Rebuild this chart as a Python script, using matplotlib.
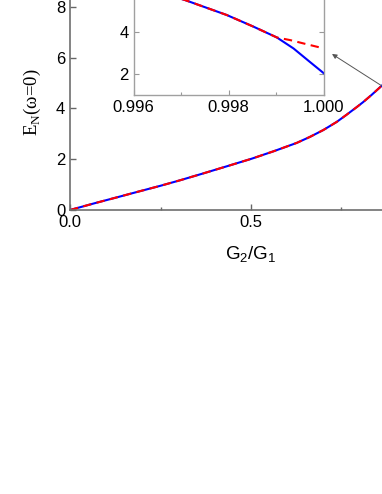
import matplotlib
matplotlib.use("Agg")
import matplotlib.pyplot as plt
from matplotlib.ticker import MultipleLocator

plt.rcParams['font.family'] = ['Liberation Sans', 'DejaVu Sans']
plt.rcParams['font.size'] = 12

### Data
# main panel: E_N(w=0) vs G2/G1 (both curves coincide in the visible range)
main_x = [0.0, 0.069, 0.138, 0.193, 0.249, 0.304, 0.368, 0.433, 0.502, 0.562,
          0.626, 0.663, 0.700, 0.737, 0.764, 0.792, 0.810, 0.833, 0.861, 0.880]
main_y = [0.0, 0.27, 0.53, 0.74, 0.95, 1.17, 1.44, 1.72, 2.02, 2.31,
          2.64, 2.88, 3.15, 3.47, 3.75, 4.05, 4.25, 4.53, 4.89, 5.15]

# zoom near G2/G1 -> 1
blue_x = [0.9960, 0.9965, 0.99708, 0.99796, 0.99852, 0.99901, 0.99936, 0.99970, 1.0]
blue_y = [6.25, 5.90, 5.50, 4.79, 4.24, 3.73, 3.21, 2.58, 2.03]
red_x = [0.9960, 0.9965, 0.99708, 0.99796, 0.99852, 0.99901, 0.99930, 0.99960, 1.0]
red_y = [6.25, 5.90, 5.50, 4.79, 4.24, 3.73, 3.60, 3.43, 3.21]

fig = plt.figure(figsize=(3.82, 4.94), dpi=100)

# main axes (extends past the right/top edge of the picture, like the crop)
ax = fig.add_axes([70 / 382, (494 - 210) / 494, 362 / 382, 254 / 494])
ax.plot(main_x + blue_x, main_y + blue_y, color='#0000ff', lw=1.5, solid_capstyle='butt')
ax.plot(main_x + red_x, main_y + red_y, color='#ff0000', lw=1.5, dashes=(4, 2.6))
ax.set_xlim(0, 1)
ax.set_ylim(0, 10)
ax.xaxis.set_major_locator(MultipleLocator(0.5))
ax.xaxis.set_minor_locator(MultipleLocator(0.25))
ax.yaxis.set_major_locator(MultipleLocator(2))
ax.xaxis.set_major_formatter(plt.FormatStrFormatter('%.1f'))
ax.tick_params(which='both', direction='in', top=True, right=True, color='#666666')
ax.tick_params(which='major', length=4, width=1)
ax.tick_params(which='minor', length=2.5, width=1)
for sp in ax.spines.values():
    sp.set_color('#6e6e6e')
    sp.set_linewidth(1.2)
ax.set_xlabel('G$_\\mathregular{2}$/G$_\\mathregular{1}$', fontsize=13.5)
ax.xaxis.set_label_coords(0.5, -0.135)
ax.set_ylabel('E$_\\mathregular{N}$(ω=0)', fontsize=13.5, family='Liberation Serif')
ax.yaxis.set_label_coords(-0.075, 0.423)

# inset
axin = fig.add_axes([133.5 / 382, (494 - 95.2) / 494, 190.5 / 382, 6 * 21.15 / 494])
axin.plot(blue_x, blue_y, color='#0000ff', lw=1.5)
axin.plot(red_x, red_y, color='#ff0000', lw=1.5, dashes=(4, 2.6))
axin.set_xlim(0.996, 1.0)
axin.set_ylim(1, 7)
axin.xaxis.set_major_locator(MultipleLocator(0.002))
axin.xaxis.set_minor_locator(MultipleLocator(0.001))
axin.yaxis.set_major_locator(MultipleLocator(2))
axin.xaxis.set_major_formatter(plt.FormatStrFormatter('%.3f'))
axin.tick_params(which='both', direction='in', top=True, right=True, color='#999999')
axin.tick_params(which='major', length=3.5, width=0.8)
axin.tick_params(which='minor', length=2.5, width=0.8)
for sp in axin.spines.values():
    sp.set_color('#a0a0a0')
    sp.set_linewidth(1.0)

# arrow from the main curve to the inset
ax.annotate('', xy=(332 / 382, 1 - 54 / 494), xycoords='figure fraction',
            xytext=(0.861, 4.89), textcoords='data',
            arrowprops=dict(arrowstyle='-|>', color='#555555', lw=0.7,
                            mutation_scale=7, shrinkA=0, shrinkB=0))

fig.savefig('out.png', dpi=100)
